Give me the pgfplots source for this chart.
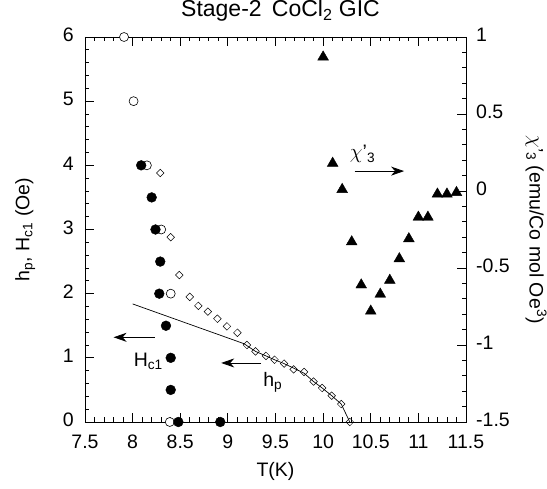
\documentclass[border=0pt]{standalone}
\usepackage{fontspec}
\setmainfont{Liberation Sans}
\usepackage{pgfplots}
\pgfplotsset{compat=1.18}
\usetikzlibrary{arrows.meta}
\newcommand{\chartfont}{\fontsize{19.5}{23}\selectfont}
\newcommand{\titlefont}{\fontsize{23}{27}\selectfont}
\begin{document}
\begin{tikzpicture}
\pgfplotsset{
  common/.style={
    scale only axis, width=381pt, height=385pt,
    xmin=7.5, xmax=11.5,
    tick align=inside,
    major tick length=9pt, minor tick length=4.5pt,
    every tick/.style={black, line width=0.8pt},
    axis line style={line width=0.9pt},
    every tick label/.append style={font=\chartfont},
    every axis label/.append style={font=\chartfont},
    /pgf/number format/assume math mode=true,
    clip=false,
  }
}
\begin{axis}[common, name=main,
  ymin=0, ymax=6,
  xtick={7.5,8,...,11.5}, minor x tick num=4,
  xticklabels={7.5,8,8.5,9,9.5,10,10.5,11,11.5},
  ytick={0,1,2,3,4,5,6}, minor y tick num=4,
  ytick pos=left, xtick pos=both,
  xticklabel style={anchor=base, yshift=-27pt},
  yticklabel style={anchor=east, inner sep=0pt, xshift=-11pt, yshift=2pt},
  xlabel={T(K)},
  xlabel style={at={(axis description cs:0.5,0)}, anchor=base, yshift=-55pt},
  ylabel={h\textsubscript{p}, H\textsubscript{c1} (Oe)},
  ylabel style={at={(axis description cs:-0.157,0.5)}, anchor=center, rotate=0},
  title={Stage-2\, CoCl\textsubscript{2} GIC},
  title style={font=\titlefont, at={(axis description cs:0.5,1)}, anchor=base, yshift=14pt, xshift=5pt},
]
% Hc1 fit line
\addplot[black, line width=0.7pt, no marks] coordinates {
(8.0,1.84) (9.17,1.22) (9.29,1.10) (9.40,1.03) (9.49,0.97) (9.59,0.91)
(9.69,0.84) (9.80,0.76) (9.90,0.63) (9.99,0.53) (10.09,0.41) (10.19,0.28) (10.28,0.0)
};
% diamonds h_p
\addplot[only marks, mark=square, mark size=2.7pt, mark options={rotate=45, black, fill=white, line width=0.5pt}] coordinates {
(8.29,3.88) (8.40,2.88) (8.49,2.29) (8.60,1.95) (8.69,1.81) (8.79,1.72)
(8.89,1.61) (8.99,1.49) (9.10,1.39) (9.20,1.20) (9.29,1.10) (9.40,1.03)
(9.49,0.97) (9.59,0.91) (9.69,0.82) (9.80,0.78) (9.90,0.63) (9.99,0.53)
(10.09,0.41) (10.19,0.28) (10.28,0.0)
};
% open circles
\addplot[only marks, mark=*, mark size=4.5pt, mark options={black, fill=white, line width=0.6pt}] coordinates {
(7.91,6) (8.01,5) (8.15,4) (8.30,3) (8.40,2) (8.39,0)
};
% filled circles
\addplot[only marks, mark=*, mark size=4.9pt, mark options={black, fill=black}] coordinates {
(8.09,4) (8.20,3.5) (8.24,3) (8.29,2.5) (8.28,2) (8.35,1.5) (8.40,1) (8.40,0.5) (8.48,0) (8.92,0)
};
% annotations
\draw[-{Stealth[length=13pt,width=9pt,inset=4pt]}, line width=0.8pt] (axis cs:8.23,1.32) -- (axis cs:7.80,1.32);
\node[font=\chartfont, anchor=base west, inner sep=0pt] at (axis cs:8.01,0.87) {H\textsubscript{c1}};
\draw[-{Stealth[length=13pt,width=9pt,inset=4pt]}, line width=0.8pt] (axis cs:9.35,0.92) -- (axis cs:8.93,0.92);
\node[font=\chartfont, anchor=base west, inner sep=0pt] at (axis cs:9.37,0.56) {h\textsubscript{p}};
\draw[-{Stealth[length=13pt,width=9pt,inset=4pt]}, line width=0.8pt] (axis cs:10.33,3.91) -- (axis cs:10.85,3.91);
\node[font=\chartfont, anchor=base west, inner sep=0pt] at (axis cs:10.28,4.10) {$\chi$'\textsubscript{3}};
\end{axis}
\begin{axis}[common,
  ymin=-1.5, ymax=1,
  hide x axis,
  axis y line*=right,
  ytick={-1.5,-1,-0.5,0,0.5,1}, minor y tick num=4,
  yticklabels={-1.5,-1,-0.5,0,0.5,1},
  yticklabel style={anchor=west, inner sep=0pt, xshift=10pt, yshift=2pt},
  ylabel={$\chi$'\textsubscript{3} (emu/Co mol Oe\textsuperscript{3})},
  ylabel style={at={(axis description cs:1.184,0.5)}, anchor=center, rotate=180},
]
\addplot[only marks, mark=triangle*, mark size=6.2pt, mark options={black, fill=black}] coordinates {
(10.0,0.87) (10.1,0.18) (10.2,0.01) (10.3,-0.33) (10.4,-0.61) (10.5,-0.78)
(10.6,-0.67) (10.7,-0.58) (10.8,-0.44) (10.9,-0.31) (11.0,-0.17) (11.1,-0.17)
(11.2,-0.02) (11.3,-0.02) (11.4,-0.01)
};
\end{axis}
\pgfresetboundingbox
\path[use as bounding box] ([shift={(-85pt,-67pt)}]main.south west) rectangle ([shift={(81pt,37pt)}]main.north east);
\end{tikzpicture}
\end{document}
